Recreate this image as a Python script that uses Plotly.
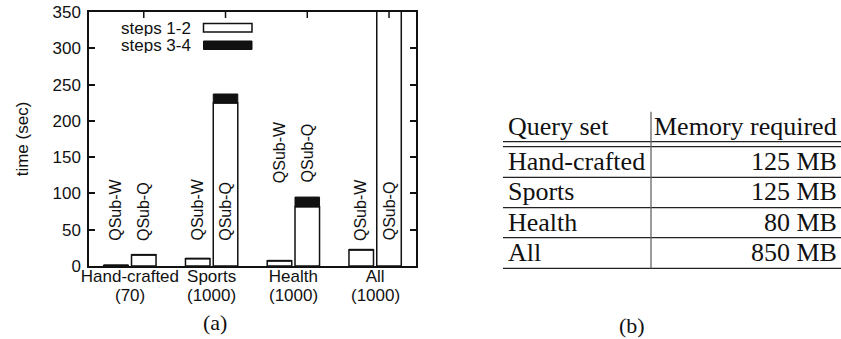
import plotly.graph_objects as go

# ---------------- data ----------------
category_names = ["Hand-crafted", "Sports", "Health", "All"]
category_counts = ["(70)", "(1000)", "(1000)", "(1000)"]
group_pos = [0, 1, 2, 3]
qsubw_steps12 = [0.4, 10, 7, 22]
qsubw_steps34 = [1.2, 0.8, 0.8, 1.0]
qsubq_steps12 = [15, 224.5, 81.5, 390]
qsubq_steps34 = [1.0, 12.5, 13.5, 15]
label_w = "QSub-W"
label_q = "QSub-Q"
label_heights = [32, 32, 112, 32]
yticks = [0, 50, 100, 150, 200, 250, 300, 350]

table_header = ["Query set", "Memory required"]
table_sets = ["Hand-crafted", "Sports", "Health", "All"]
table_memory = ["125 MB", "125 MB", "80 MB", "850 MB"]

# ---------------- geometry helpers ----------------
W, H = 841, 339
L, R, T, B = 89, 416, 12, 266
OFF, BW = 0.17, 0.30


def px(xp):
    return (xp - L) / (R - L)


def py(yp):
    return (B - yp) / (B - T)


SANS = "Liberation Sans, Arial, Helvetica, sans-serif"
SERIF = "Liberation Serif, Times New Roman, serif"
INK = "#111111"
FS = 17

xw = [g - OFF for g in group_pos]
xq = [g + OFF for g in group_pos]

fig = go.Figure()
white = dict(color="white", line=dict(color=INK, width=1.5))
black = dict(color=INK, line=dict(color=INK, width=1))
fig.add_trace(go.Bar(x=xw, y=qsubw_steps12, width=BW, marker=white, name="steps 1-2"))
fig.add_trace(go.Bar(x=xw, y=qsubw_steps34, base=qsubw_steps12, width=BW, marker=black, name="steps 3-4"))
fig.add_trace(go.Bar(x=xq, y=qsubq_steps12, width=BW, marker=white, name="steps 1-2"))
fig.add_trace(go.Bar(x=xq, y=qsubq_steps34, base=qsubq_steps12, width=BW, marker=black, name="steps 3-4"))

annotations = []
shapes = []

# rotated series labels above bars
for xa, xb, hy in zip(xw, xq, label_heights):
    for xx, txt in ((xa, label_w), (xb, label_q)):
        annotations.append(dict(x=xx, y=hy, xref="x", yref="y", text=txt, textangle=-90,
                                showarrow=False, xanchor="center", yanchor="bottom",
                                font=dict(family=SANS, size=16, color=INK)))

# second line of category labels
for g, cnt in zip(group_pos, category_counts):
    annotations.append(dict(x=g, y=py(295), xref="x", yref="paper", text=cnt,
                            showarrow=False, xanchor="center", yanchor="middle",
                            font=dict(family=SANS, size=FS, color=INK)))

# top tick marks (at QSub-Q positions)
for xx in xq:
    shapes.append(dict(type="line", xref="x", yref="paper", x0=xx, x1=xx,
                       y0=1, y1=1 - 6 / (B - T), line=dict(color=INK, width=1.5)))

# manual legend
annotations.append(dict(x=px(193), y=py(29), xref="paper", yref="paper", text="steps 1-2",
                        showarrow=False, xanchor="right", yanchor="middle", height=15,
                        font=dict(family=SANS, size=FS, color=INK)))
annotations.append(dict(x=px(193), y=py(46), xref="paper", yref="paper", text="steps 3-4",
                        showarrow=False, xanchor="right", yanchor="middle", height=15,
                        font=dict(family=SANS, size=FS, color=INK)))
shapes.append(dict(type="rect", xref="paper", yref="paper", x0=px(203.5), x1=px(252),
                   y0=py(32), y1=py(23.5), fillcolor="white", line=dict(color=INK, width=1.5)))
shapes.append(dict(type="rect", xref="paper", yref="paper", x0=px(203.5), x1=px(252),
                   y0=py(49.5), y1=py(41), fillcolor=INK, line=dict(color=INK, width=1)))

# captions
annotations.append(dict(x=px(215), y=py(322), xref="paper", yref="paper", text="(a)",
                        showarrow=False, xanchor="center", yanchor="middle",
                        font=dict(family=SERIF, size=22, color=INK)))
annotations.append(dict(x=px(632), y=py(325), xref="paper", yref="paper", text="(b)",
                        showarrow=False, xanchor="center", yanchor="middle",
                        font=dict(family=SERIF, size=22, color=INK)))

# ---------------- table (b) ----------------
TX0, TX1, TXV = 503, 841, 651
rules = [141.7, 146.7, 177.3, 207.7, 237.7, 268.3]
for ry in rules:
    shapes.append(dict(type="line", xref="paper", yref="paper", x0=px(TX0), x1=px(TX1),
                       y0=py(ry), y1=py(ry), line=dict(color="#222222", width=1.3)))
shapes.append(dict(type="line", xref="paper", yref="paper", x0=px(TXV), x1=px(TXV),
                   y0=py(111.7), y1=py(268.3), line=dict(color="#666666", width=1.3)))

row_centers = [126, 161, 191.5, 222, 252.5]
tfont = dict(family=SERIF, size=26, color=INK)
annotations.append(dict(x=px(506), y=py(row_centers[0]), xref="paper", yref="paper",
                        text=table_header[0], showarrow=False, xanchor="left",
                        yanchor="middle", font=tfont))
annotations.append(dict(x=px(839), y=py(row_centers[0]), xref="paper", yref="paper",
                        text=table_header[1], showarrow=False, xanchor="right",
                        yanchor="middle", font=tfont))
for rc, name, mem in zip(row_centers[1:], table_sets, table_memory):
    annotations.append(dict(x=px(506), y=py(rc), xref="paper", yref="paper", text=name,
                            showarrow=False, xanchor="left", yanchor="middle", font=tfont))
    annotations.append(dict(x=px(839), y=py(rc), xref="paper", yref="paper", text=mem,
                            showarrow=False, xanchor="right", yanchor="middle", font=tfont))

fig.update_layout(
    width=W, height=H,
    margin=dict(l=L, r=W - R, t=T, b=H - B, pad=0),
    paper_bgcolor="white", plot_bgcolor="white",
    barmode="overlay", showlegend=False,
    font=dict(family=SANS, size=FS, color=INK),
    annotations=annotations, shapes=shapes,
    xaxis=dict(range=[-0.5, 3.5], tickvals=group_pos, ticktext=category_names, ticks="",
               showgrid=False, zeroline=False, showline=True, mirror=True, automargin=False,
               ticklabelstandoff=-6,
               linecolor=INK, linewidth=1.5, tickfont=dict(family=SANS, size=FS, color=INK)),
    yaxis=dict(range=[0, 350], tickvals=yticks, ticks="inside", ticklen=6, tickwidth=1.5,
               tickcolor=INK, showgrid=False, zeroline=False, showline=True, mirror="ticks",
               automargin=False,
               linecolor=INK, linewidth=1.5, tickfont=dict(family=SANS, size=FS, color=INK),
               ticklabelstandoff=3,
               title=dict(text="time (sec)", font=dict(family=SANS, size=FS, color=INK),
                          standoff=20)),
)

fig.write_html(
    "out.html",
    config={"displayModeBar": False},
    post_script="document.body.style.margin='0';document.body.style.padding='0';"
                "document.documentElement.style.overflow='hidden';",
)
